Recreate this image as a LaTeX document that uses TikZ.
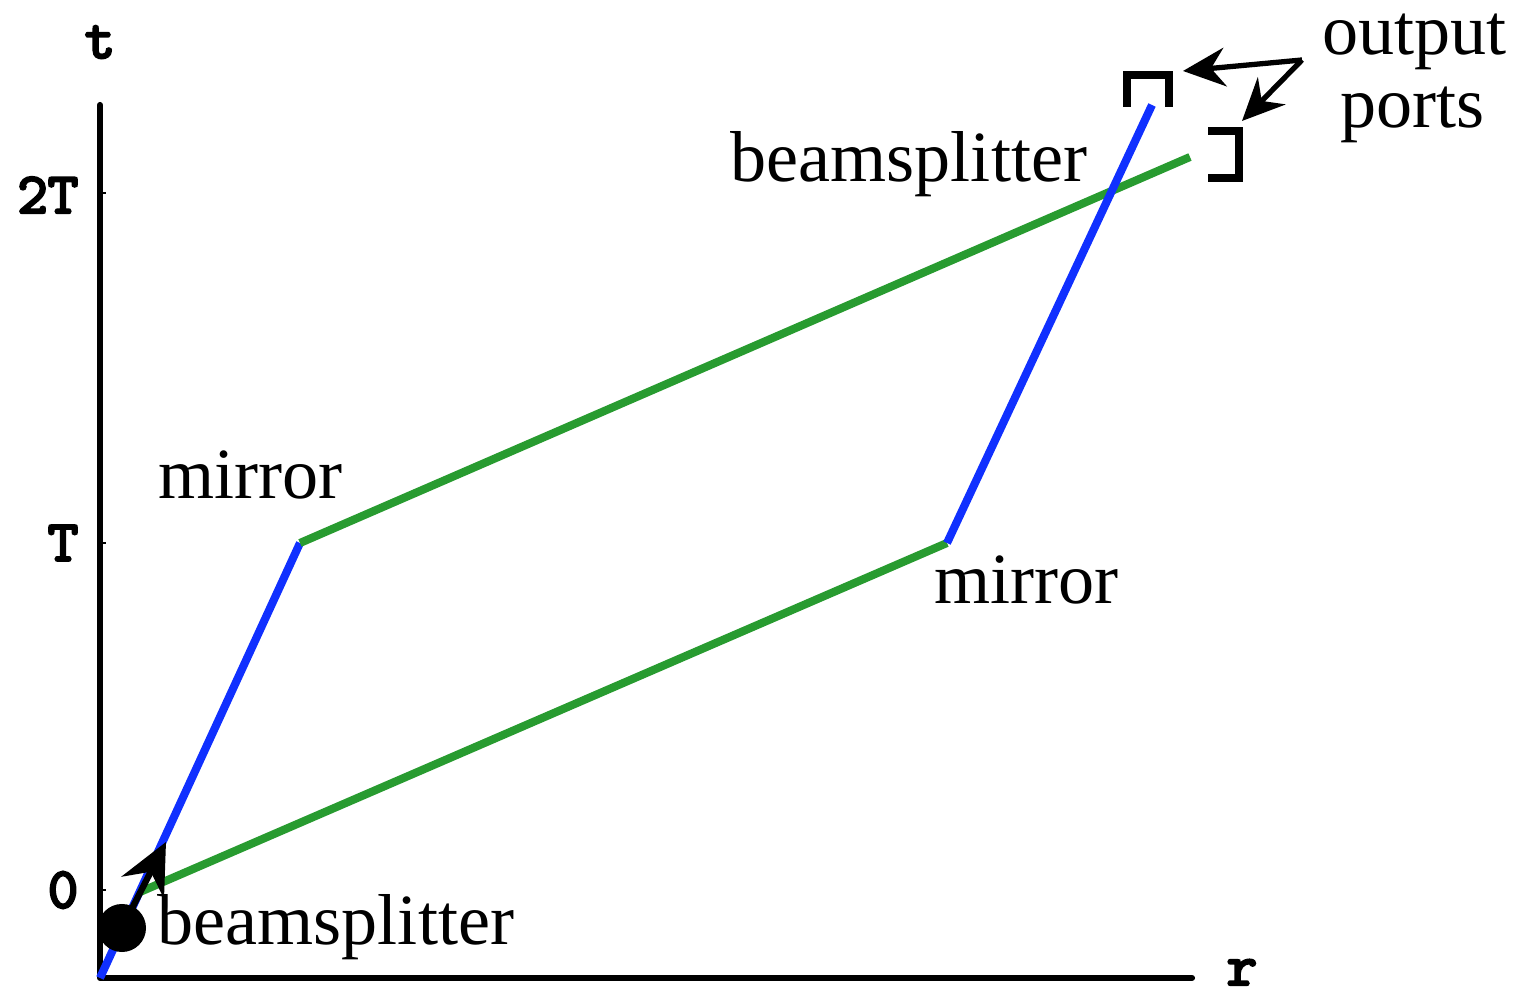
\documentclass[tikz,border=0pt]{standalone}
\usepackage{fontspec}
\setmainfont{Liberation Serif}
\newfontfamily\axfont{lmmono10-regular.otf}[FakeBold=4]
\usetikzlibrary{arrows.meta}
\definecolor{pathblue}{RGB}{16,48,255}
\definecolor{pathgreen}{RGB}{40,155,48}
\begin{document}
\begin{tikzpicture}[x=0.01cm,y=-0.01cm,
  axis/.style={line width=1.75pt,line cap=round,line join=round},
  tick/.style={line width=0.4pt},
  beam/.style={line width=2.3pt,line join=round},
  bluebeam/.style={beam,pathblue},
  greenbeam/.style={beam,pathgreen},
  lbl/.style={font=\fontsize{20.5}{24}\selectfont,inner sep=0pt,anchor=base west},
  axlbl/.style={font=\fontsize{16.5}{18}\selectfont\axfont,inner sep=0pt},
  port/.style={line width=2.2pt,line join=miter},
  pointer/.style={line width=1.5pt,-{Stealth[length=12pt,width=11pt,inset=4pt]}},
  bigpointer/.style={line width=1.8pt,-{Stealth[length=14.5pt,width=13.5pt,inset=5pt]}},
]
\useasboundingbox (0,0) rectangle (1517,995);
% coordinates
\coordinate (O) at (100,978);
\coordinate (ytop) at (100,105);
\coordinate (xend) at (1192,978);
\coordinate (bs) at (140,892);
\coordinate (m1) at (300,543);
\coordinate (m2) at (947,543);
\coordinate (bend) at (1152,105);
\coordinate (gend) at (1190,157);
% axes
\draw[axis] (ytop) -- (O) -- (xend);
\draw[tick] (100,193) -- (106,193);
\draw[tick] (100,543) -- (106,543);
\draw[tick] (100,890) -- (106,890);
\node[axlbl,anchor=base] (tl) at (100,58) {t};
\node[axlbl,anchor=base] (rl) at (1242,985) {r};
\node[axlbl,anchor=east] (l2T) at (79,195) {2T};
\node[axlbl,anchor=east] (lT) at (79,543) {T};
\node[axlbl,anchor=east] (l0) at (79,890) {0};
% beams
\draw[bluebeam] (O) -- (m1);
\draw[greenbeam] (m1) -- (gend);
\draw[greenbeam] (bs) -- (m2);
\draw[bluebeam] (m2) -- (bend);
% source
\node[circle,fill=black,minimum size=0.48cm,inner sep=0pt] (src) at (122,928) {};
\coordinate (tip) at (166,842);
\draw[bigpointer] (src.center) -- (tip);
% ports
\draw[port] (1127,107) -- (1127,75) -- (1169,75) -- (1169,107);
\draw[port] (1208,131) -- (1239,131) -- (1239,178) -- (1208,178);
\coordinate (p1) at (1183,71);
\coordinate (p2) at (1242,121);
\coordinate (ps) at (1302,60);
\draw[pointer] (ps) -- (p1);
\draw[pointer] (ps) -- (p2);
% labels
\node[lbl] (bsl1) at (157,945) {beamsplitter};
\node[lbl] (bsl2) at (730,182) {beamsplitter};
\node[lbl] (mir1) at (158,499) {mirror};
\node[lbl] (mir2) at (934,604) {mirror};
\node[lbl] (out1) at (1322,55) {output};
\node[lbl] (out2) at (1340,128) {ports};
\end{tikzpicture}
\end{document}
